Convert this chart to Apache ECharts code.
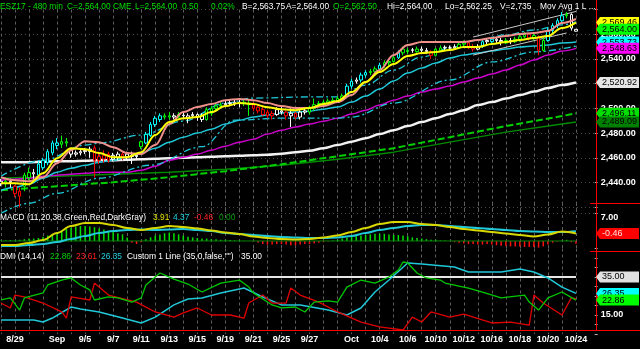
<!DOCTYPE html>
<html><head><meta charset="utf-8">
<script src="https://cdn.jsdelivr.net/npm/echarts@6/dist/echarts.min.js"></script>
<style>html,body{margin:0;padding:0;background:#000;overflow:hidden}#c{width:640px;height:349px}</style>
</head><body><div id="c"></div>
<script>
// ---------------- data ----------------
const dayNames = ['8/28','8/29','8/30','8/31','Sep','9/4','9/5','9/6','9/7','9/8','9/11','9/12','9/13','9/14','9/15','9/18','9/19','9/20','9/21','9/22','9/25','9/26','9/27','9/28','9/29','Oct','10/3','10/4','10/5','10/6','10/9','10/10','10/11','10/12','10/13','10/16','10/17','10/18','10/19','10/20','10/23','10/24'];
const shownDays = ['8/29','Sep','9/5','9/7','9/11','9/13','9/15','9/19','9/21','9/25','9/27','Oct','10/4','10/6','10/10','10/12','10/16','10/18','10/20','10/24'];

// 480-min bars, three per session
const opens = [2441,2439,2441, 2437,2433,2437, 2444,2448,2446, 2452,2456,2464, 2470,2471,2473, 2466,2463,2464, 2465,2465,2468, 2461,2462,2463, 2459,2460,2463, 2461,2462,2461, 2469,2472,2478, 2487,2491,2494, 2493,2494,2493, 2494,2492,2494, 2495,2491,2491, 2496,2500,2502, 2503,2504,2504, 2505,2504,2504, 2503,2501,2499, 2497,2496,2495, 2498,2497,2494, 2496,2493,2497, 2497,2500,2503, 2504,2504,2506, 2506,2508,2510, 2518,2522,2523, 2527,2529,2530, 2532,2535,2537, 2538,2541,2545, 2546,2547,2546, 2548,2547,2546, 2543,2547,2549, 2549,2549,2549, 2552,2553,2550, 2548,2550,2554, 2554,2556,2555, 2553,2555,2554, 2556,2558,2560, 2557,2558,2547, 2555,2563,2567, 2571,2575,2576, 2562.5];
const highs = [2443,2444,2443, 2438,2436,2448, 2452,2451,2457, 2460,2467,2474, 2476,2478,2476, 2468,2466,2467, 2468,2469,2470, 2465,2466,2465, 2464,2465,2465, 2465,2465,2464, 2474,2481,2489, 2494,2496,2496, 2497,2496,2497, 2497,2496,2497, 2496,2496,2501, 2502,2504,2505, 2506,2507,2507, 2507,2507,2507, 2505,2503,2501, 2499,2498,2501, 2501,2498,2500, 2497,2499,2501, 2502,2508,2506, 2507,2508,2509, 2510,2512,2520, 2524,2525,2529, 2531,2532,2534, 2537,2539,2540, 2543,2547,2550, 2549,2549,2550, 2550,2549,2547, 2549,2551,2551, 2551,2552,2554, 2555,2554,2552, 2552,2556,2557, 2558,2558,2557, 2557,2557,2558, 2560,2562,2561, 2561,2559,2558, 2565,2569,2573, 2578,2578,2577, 2564];
const lows = [2437,2436,2436, 2428,2420,2433, 2442,2443,2444, 2450,2454,2462, 2467,2468,2469, 2460,2461,2462, 2463,2460,2444, 2455,2456,2456, 2457,2458,2458, 2458,2455,2459, 2467,2471,2477, 2485,2489,2491, 2491,2491,2492, 2492,2488,2492, 2490,2489,2490, 2494,2498,2500, 2501,2502,2502, 2501,2502,2494, 2498,2496,2494, 2492,2491,2494, 2495,2491,2485, 2491,2491,2495, 2495,2498,2501, 2502,2503,2504, 2505,2507,2509, 2516,2520,2521, 2525,2527,2529, 2531,2533,2535, 2537,2540,2543, 2544,2545,2545, 2545,2544,2540, 2542,2546,2547, 2547,2548,2548, 2550,2548,2546, 2547,2549,2552, 2553,2553,2551, 2552,2552,2553, 2554,2557,2555, 2555,2543,2546, 2554,2561,2565, 2569,2573,2563, 2562.25];
const closes = [2439,2441,2440, 2431,2429,2446, 2448,2447,2455, 2458,2465,2472, 2472,2473,2472, 2463,2464,2465, 2466,2467,2458, 2458,2459,2458, 2462,2463,2460, 2463,2461,2462, 2473,2479,2487, 2492,2494,2493, 2494,2493,2495, 2494.5,2494,2495, 2493,2494,2499, 2500,2502,2503, 2504,2504.5,2505, 2504,2505,2503, 2500,2498,2495, 2494,2494,2499, 2497,2494,2496, 2493,2497,2498, 2500,2503,2504, 2505,2506,2506.5, 2508,2510,2518, 2522,2523,2527, 2529,2530,2532, 2535,2537,2538, 2541,2545,2548, 2547,2547.5,2548, 2547,2546,2543, 2548,2549,2549.5, 2549,2550,2552, 2553,2549,2548, 2550,2554,2555, 2556,2555,2554, 2555,2554,2556, 2558,2560,2557, 2559,2547,2555, 2563,2567,2571, 2575,2576,2565, 2564];
// paint-bar state per bar: W neutral, G up, C strong up, R down
const paintState = ['WGW','RRG','GWC','CCC','CGG','WWW','WWR','RRR','WWR','WWW','GCC','CCG','GWG','WWW','WWG','GGG','WWW','WGG','RRR','RRW','WRW','RWW','GGG','GGG','GGC','CWC','CGG','CGG','GCG','GWG','WWR','GGW','WWG','GRR','WCW','CWW','GWG','GGR','GRG','CCC','CGW','W'].join('').split('');

// moving averages, one reading per session (first bar of each session)
const maFast = [2439.5,2439.5,2438.7,2447.5,2459.7,2467.8,2467,2463.8,2460.5,2460.5,2464.6,2478.4,2489,2492,2493,2497,2501.9,2504.3,2503.5,2501,2499.4,2498.6,2500.3,2503.5,2506,2513.2,2521.4,2529.5,2536,2542.4,2544.9,2545.7,2547.3,2549.7,2549.7,2552.2,2553.8,2555.4,2557,2558.7,2565.1,2569.46];
const maHigh = [2444.3,2441.9,2441,2444.3,2455.7,2466.2,2473.5,2472.7,2468.6,2463.8,2463,2470.3,2487.3,2497,2501.1,2503.5,2506.7,2507.6,2506.7,2504.3,2501.9,2500.3,2500.3,2501.9,2505.1,2510.8,2521.4,2531.1,2543.2,2551.4,2553.8,2553.8,2553.8,2553.8,2555.4,2557,2558.7,2560.3,2561.1,2562.7,2569.2,2572.4];
const maMid = [2433.8,2436.2,2438.6,2443.5,2448.4,2451.6,2454,2456.5,2458.1,2460.5,2463.8,2467.8,2472.7,2476.7,2480,2483.2,2487.3,2490.5,2493,2494.6,2496.2,2497,2497.8,2499.4,2501.1,2505.1,2510,2515.7,2522.2,2528.6,2532.7,2536.8,2540.8,2543.2,2544.9,2546.5,2548.1,2549.7,2550.5,2551.4,2553,2553.73];
const maSlow = [2441.9,2442.7,2443.5,2445.1,2445.9,2446.7,2447.5,2448.4,2448.4,2448.4,2450,2453.2,2458.1,2460.5,2463,2466.2,2469.4,2472.7,2475.1,2479.2,2482.4,2484.9,2487.3,2489.7,2492.1,2495.4,2498.6,2502.7,2506.7,2510,2513.2,2515.7,2518.1,2521.4,2524.6,2527.8,2531.1,2535.1,2539.2,2543.2,2546.5,2548.63];
const maLong = [2456.5,2456.5,2456.5,2456.9,2457.3,2457.3,2457.7,2458.1,2458.1,2458.5,2458.9,2459.3,2459.7,2460.1,2460.5,2460.9,2461.3,2461.7,2462.1,2462.5,2463.3,2464.6,2465.8,2467.8,2470.3,2473.1,2475.9,2479.2,2482.4,2485.7,2488.9,2492.1,2495.4,2498.6,2502.7,2505.1,2508,2510.8,2513.6,2516.5,2518.9,2520.92];
// [bar, value] readings
const greenDashPts = [[0,2433.8],[12,2437],[24,2440.2],[36,2444.3],[48,2449.2],[60,2454.8],[72,2461.3],[84,2467.8],[96,2476.7],[108,2485.7],[120,2493.8],[123,2496.11]];
const darkGreenPts = [[0,2443.5],[12,2445.1],[24,2446.7],[36,2448.4],[48,2450.8],[60,2454],[72,2458.9],[84,2464.6],[96,2472.7],[108,2480.8],[120,2487.3],[123,2489.09]];
const bandUpperPts = [[0,2445.1],[9,2458.1],[18,2470.3],[21,2471.9],[30,2478.4],[39,2489.7],[48,2504.3],[54,2508.4],[66,2509.3],[72,2509.3],[78,2518.9],[84,2531.1],[90,2541.6],[96,2548.9],[102,2555.4],[108,2559.5],[114,2563.5],[120,2567.6],[123,2570]];
const bandLowerPts = [[0,2415.1],[6,2423.2],[12,2431.3],[21,2443.5],[32,2454],[43,2469],[50,2490.5],[60,2492.1],[72,2492.1],[75,2493],[84,2504.3],[96,2523],[105,2537.6],[114,2545.7],[123,2550.5]];
const channelUpperPts = [[101,2557.8],[123,2578.5]];
const channelLowerPts = [[101,2543.2],[121,2561.1]];

// MACD (per session) and histogram (per bar)
const macdLine = [1.6,1.6,2.0,2.6,4.0,5.4,6.0,6.0,5.6,5.0,4.6,5.0,5.4,5.2,4.9,4.5,4.1,3.8,3.3,3.0,2.8,2.7,2.8,3.1,3.5,4.2,5.0,5.8,6.2,6.2,5.8,5.6,5.2,4.8,4.5,4.2,3.9,3.6,3.3,3.7,4.3,3.91];
const signalLine = [1.4,1.4,1.6,1.8,2.2,2.8,3.4,4.0,4.4,4.6,4.7,4.6,4.7,4.8,4.6,4.4,4.0,3.8,3.6,3.4,3.2,3.1,3.0,3.0,3.1,3.4,4.0,4.6,5.0,5.4,5.6,5.6,5.4,5.2,5.0,4.8,4.6,4.4,4.3,4.2,4.2,4.37];
const macdHist = [0.1,0.1,0.15, 0.1,0.2,0.3, 0.4,0.4,0.5, 0.7,0.9,1.1, 1.4,1.7,2.0, 2.2,2.4,2.5, 2.5,2.4,2.3, 2.1,1.9,1.7, 1.5,1.3,1.1, 0.6,-0.3,-0.5, -0.2,0.3,0.6, 0.9,1.1,1.3, 1.4,1.3,1.1, 0.9,0.7,0.6, 0.5,0.4,0.4, 0.3,0.3,0.2, 0.2,0.15,0.1, 0.1,0.05,0.0, -0.1,-0.3,-0.5, -0.6,-0.6,-0.5, -0.5,-0.6,-0.7, -0.7,-0.6,-0.5, -0.5,-0.4,-0.3, -0.2,-0.1,0.1, 0.2,0.4,0.6, 0.7,0.8,0.9, 1.0,1.1,1.2, 1.2,1.2,1.1, 1.0,1.0,0.9, 0.8,0.6,0.5, 0.4,0.3,0.2, 0.2,0.1,0.1, 0.0,-0.2,-0.3, -0.4,-0.5,-0.5, -0.6,-0.6,-0.5, -0.6,-0.7,-0.8, -0.8,-0.9,-0.9, -0.9,-1.0,-1.0, -1.0,-1.1,-0.9, -0.6,-0.3,-0.1, 0.1,0.2,-0.2, -0.46];
const macdZero = 0;

// DMI readings [bar, value]
const plusDiPts = [[0,22.9],[2,24],[4,17.6],[5,24],[9,26.6],[10,30.8],[13,33.4],[15,34.5],[17,30.8],[19,28.2],[20,22.9],[23,24.5],[25,24],[28,21.8],[30,24],[31,30.8],[34,37.1],[37,33.9],[40,31.3],[43,27.1],[47,31.8],[51,33.4],[53,29.7],[54,26.6],[58,20.3],[60,18.7],[63,19.2],[65,16.6],[67,21.8],[70,22.4],[72,21.8],[74,29.7],[77,33.4],[80,31.8],[83,35],[85,38.7],[86,42.9],[87,42.4],[89,37.1],[91,34.5],[94,33.4],[95,31.8],[100,29.2],[103,27.1],[107,24],[112,25.5],[113,21.8],[115,17.6],[117,24],[120,27.1],[123,22.86]];
const minusDiPts = [[0,21.3],[2,18.7],[3,25.5],[5,24.5],[9,21.3],[13,16.6],[14,13.4],[15,24.5],[19,22.9],[20,31.8],[23,25.5],[29,21.8],[33,16.6],[37,13.9],[39,16.1],[42,18.7],[45,15],[49,15],[52,13.4],[53,21.3],[56,25.5],[58,21.3],[61,21.3],[62,29.2],[64,25.5],[68,21.8],[72,16.6],[77,11.3],[81,8.7],[86,7.1],[88,13.9],[90,11.3],[92,16.6],[96,13.9],[99,15.5],[105,10.8],[109,11.3],[113,9.7],[114,25.5],[116,21.3],[120,15],[122,24],[123,23.61]];
const adxPts = [[0,12.4],[7,12.4],[9,11.3],[11,13.4],[15,19.2],[17,18.2],[21,16.6],[26,13.4],[30,10.8],[33,13.9],[37,20.3],[40,23.4],[43,23.9],[47,26.6],[52,29.2],[56,24.5],[60,20.3],[64,20.3],[70,17.6],[74,15],[77,18.7],[80,27.1],[83,33.4],[87,42.4],[90,41.8],[97,40.3],[100,37.6],[107,37.6],[111,39.2],[114,37.6],[117,34.5],[120,29.7],[123,26.35]];
const customLevel = 35;

// ---------------- chart ----------------
const FONT = "'Liberation Sans',Arial,sans-serif";
const chart = echarts.init(document.getElementById('c'));
const N = 128;
const lastBar = opens.length - 1;
const cats = [];
for (let i = 0; i < N; i++) cats.push(i % 3 === 0 && i / 3 < dayNames.length ? dayNames[i / 3] : '');
const perDay = arr => arr.map((v, d) => [d * 3, v]);
const fmt = v => v.toLocaleString('en-US', {minimumFractionDigits: 2, maximumFractionDigits: 2});
const last = a => { const x = a[a.length - 1]; return Array.isArray(x) ? x[1] : x; };

const paintColor = {W: '#ffffff', G: '#00ff00', C: '#00ffff', R: '#ff0000'};
const candleData = opens.map((o, i) => {
  const col = paintColor[paintState[i]];
  return {value: [o, closes[i], lows[i], highs[i]],
    itemStyle: {color: '#000', color0: col, borderColor: col, borderColor0: col, borderWidth: 1}};
});
const histData = macdHist.map(v => ({value: v, itemStyle: {color: v >= 0 ? '#00e000' : '#ff1010'}}));

function xAx(gi, showLabels) {
  return {type: 'category', gridIndex: gi, data: cats, boundaryGap: false,
    axisLine: {show: false}, axisTick: {show: false},
    axisLabel: {show: showLabels, interval: (i, v) => shownDays.indexOf(v) >= 0, color: '#fff',
      fontFamily: FONT, fontSize: 9, fontWeight: 'bold', margin: 1},
    splitLine: {show: true, interval: (i) => i % 3 === 0 && i <= lastBar,
      lineStyle: {color: '#5e5e5e', type: [3, 3], width: 1}}};
}
function line(data, xi, yi, color, width, type, z, smooth) {
  return {type: 'line', data, xAxisIndex: xi, yAxisIndex: yi, symbol: 'none', silent: true,
    smooth: smooth ? 0.35 : false, smoothMonotone: 'x', z: z || 2,
    lineStyle: {color, width, type: type || 'solid'}};
}
const axLabel = (show) => ({color: '#ffffff', fontFamily: FONT, fontSize: 9, fontWeight: 'bold', margin: 6,
  formatter: v => show(v) ? fmt(v) : ''});

chart.setOption({
  backgroundColor: '#000',
  animation: false,
  grid: [
    {left: 0.975, width: 593.7, top: 9.6, height: 203.8},
    {left: 0.975, width: 593.7, top: 203, height: 45},
    {left: 0.975, width: 593.7, top: 248.5, height: 85.5}
  ],
  xAxis: [xAx(0, false), xAx(1, false), xAx(2, true)],
  yAxis: [
    {type: 'value', gridIndex: 0, position: 'right', min: 2415, max: 2580, splitNumber: 8,
      axisLine: {show: false}, axisTick: {show: true, length: 3, lineStyle: {color: '#b0b0b0'}},
      axisLabel: axLabel(v => v > 2420 && v < 2580),
      splitLine: {show: true, lineStyle: {color: '#4a4a4a', type: [1, 3]}}},
    {type: 'value', gridIndex: 1, position: 'right', min: 1, max: 10, interval: 1,
      axisLine: {show: false}, axisTick: {show: false},
      axisLabel: axLabel(v => v === 7 || v === 4), splitLine: {show: false}},
    {type: 'value', gridIndex: 1, position: 'right', min: -1.17, max: 6.33, show: false},
    {type: 'value', gridIndex: 2, position: 'right', min: 5, max: 50, splitNumber: 9,
      axisLine: {show: false}, axisTick: {show: true, length: 3, lineStyle: {color: '#b0b0b0'}},
      axisLabel: axLabel(v => v === 15), splitLine: {show: false}}
  ],
  series: [
    line(darkGreenPts, 0, 0, '#008a00', 1.5),
    line(greenDashPts, 0, 0, '#00d000', 2, [7, 3]),
    line(perDay(maLong), 0, 0, '#f2f2f2', 2.5, 'solid', 2, true),
    line(perDay(maSlow), 0, 0, '#cc00cc', 1.5, 'solid', 2, true),
    line(bandLowerPts, 0, 0, '#1ec8d8', 1.3, [7, 3, 2, 3], 2, true),
    line(bandUpperPts, 0, 0, '#1ec8d8', 1.3, [7, 3, 2, 3], 2, true),
    line(perDay(maMid), 0, 0, '#1ec8d8', 1.5, 'solid', 2, true),
    line(channelUpperPts, 0, 0, '#c8c8c8', 1),
    line(channelLowerPts, 0, 0, '#c8c8c8', 1),
    {type: 'candlestick', data: candleData, xAxisIndex: 0, yAxisIndex: 0, barWidth: 3, z: 3, silent: true},
    line(perDay(maHigh), 0, 0, '#f0908a', 2, 'solid', 4, true),
    line(perDay(maFast), 0, 0, '#ffff00', 2, 'solid', 5, true),
    // MACD pane
    {type: 'bar', data: histData, xAxisIndex: 1, yAxisIndex: 2, barWidth: 1.5, silent: true, z: 2},
    line([[0, macdZero], [lastBar, macdZero]], 1, 2, '#008000', 1),
    line(perDay(signalLine), 1, 1, '#20c8d8', 2, 'solid', 3, true),
    line(perDay(macdLine), 1, 1, '#d8d800', 2, 'solid', 4, true),
    // DMI pane
    line([[0, customLevel], [lastBar, customLevel]], 2, 3, '#e6e6e6', 2),
    line(adxPts, 2, 3, '#20c8d8', 1.5),
    line(minusDiPts, 2, 3, '#e00000', 1.3),
    line(plusDiPts, 2, 3, '#00c800', 1.3)
  ]
});

// ---------- overlays: axis value boxes, titles, separators ----------
const py = (yi, v) => chart.convertToPixel({yAxisIndex: yi}, v);
const g = [];
let zb = 100;
function box(y, val, bg, fg) {
  g.push({type: 'polygon', z: zb, shape: {points: [[596, y], [600, y - 5.5], [639, y - 5.5], [639, y + 5.5], [600, y + 5.5]]}, style: {fill: bg}});
  g.push({type: 'text', z: zb + 1, x: 602, y: y, style: {text: fmt(val), fill: fg, font: '9px ' + FONT, verticalAlign: 'middle', align: 'left'}});
  zb += 2;
}
box(py(0, last(maFast)), last(maFast), '#ffff00', '#000');
box(py(0, last(closes)), last(closes), '#00ff00', '#000');
box(py(0, last(maMid)), last(maMid), '#00ffff', '#000');
box(py(0, last(maSlow)), last(maSlow), '#ff00ff', '#000');
box(py(0, last(maLong)), last(maLong), '#e6e6e6', '#000');
box(py(0, last(greenDashPts)), last(greenDashPts), '#00e000', '#000');
box(py(0, last(darkGreenPts)), last(darkGreenPts), '#008000', '#000');
box(py(1, last(macdLine)), last(macdHist), '#ff0000', '#ffe0e0');
box(py(3, customLevel), customLevel, '#e0e0e0', '#000');
box(py(3, last(minusDiPts)), last(minusDiPts), '#ff0000', '#000');
box(py(3, last(adxPts)), last(adxPts), '#00ffff', '#000');
box(py(3, last(plusDiPts)), last(plusDiPts), '#00ff00', '#000');

// separators
g.push({type: 'line', z: 99, shape: {x1: 596.5, y1: 0, x2: 596.5, y2: 331}, style: {stroke: '#ff0000', lineWidth: 1}});
g.push({type: 'line', z: 99, shape: {x1: 0, y1: 330.5, x2: 640, y2: 330.5}, style: {stroke: '#ff0000', lineWidth: 1}});
g.push({type: 'line', z: 99, shape: {x1: 590, y1: 203.5, x2: 640, y2: 203.5}, style: {stroke: '#ff0000', lineWidth: 1}});
g.push({type: 'line', z: 99, shape: {x1: 590, y1: 251.5, x2: 640, y2: 251.5}, style: {stroke: '#ff0000', lineWidth: 1}});

function txt(x, y, s, col) {
  g.push({type: 'text', z: 150, x: x, y: y, style: {text: s, fill: col, font: '8.4px ' + FONT, verticalAlign: 'middle', align: 'left'}});
}
const GR = '#00e000', WH = '#ffffff';
txt(0, 7, 'ESZ17 - 480 min', GR); txt(67, 7, 'C=2,564.00', GR); txt(113, 7, 'CME', GR);
txt(135, 7, 'L=2,564.00', GR); txt(182, 7, '0.50', GR); txt(211, 7, '0.02%', GR);
txt(242, 7, 'B=2,563.75', WH); txt(286, 7, 'A=2,564.00', WH); txt(333, 7, 'O=2,562.50', GR);
txt(387, 7, 'Hi=2,564.00', WH); txt(445, 7, 'Lo=2,562.25', WH); txt(500, 7, 'V=2,735', WH);
txt(540, 7, 'Mov Avg 1 L ...', WH);

txt(0, 218, 'MACD (11,20,38,Green,Red,DarkGray)', WH);
txt(153, 218, '3.91', '#e0e000'); txt(173, 218, '4.37', '#20d0e0');
txt(194, 218, '-0.46', '#ff2020'); txt(219, 218, '0.00', '#00a000');

txt(0, 257, 'DMI (14,14)', WH);
txt(50, 257, '22.86', '#00d000'); txt(76, 257, '23.61', '#ff2020'); txt(101, 257, '26.35', '#20d0e0');
txt(127, 257, 'Custom 1 Line (35,0,false,"")', WH); txt(241, 257, '35.00', WH);

chart.setOption({graphic: {elements: g}});
</script>
</body></html>
